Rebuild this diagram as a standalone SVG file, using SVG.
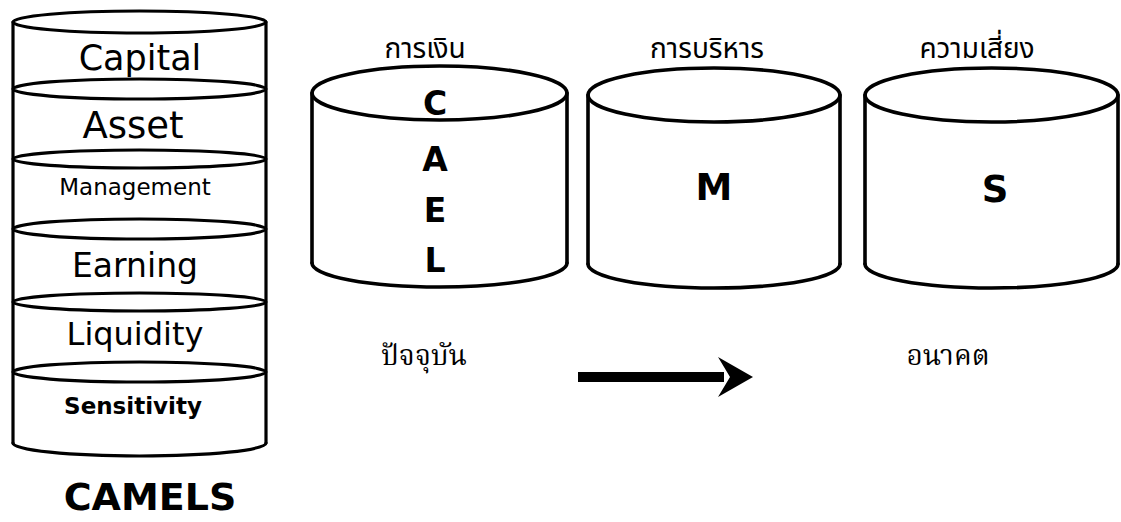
<svg xmlns="http://www.w3.org/2000/svg" width="1121" height="522" viewBox="0 0 1121 522">
<style>
.ln{fill:none;stroke:#000;stroke-width:3.2;stroke-linecap:round}
.cy{fill:none;stroke:#000;stroke-width:3.6;stroke-linecap:round}
.st{font-family:"DejaVu Sans","Noto Sans",sans-serif;fill:#000;text-anchor:middle}
.b{font-family:"DejaVu Sans","Noto Sans",sans-serif;font-weight:bold;fill:#000;text-anchor:middle}
.th{font-family:"Noto Sans Thai","Noto Sans","DejaVu Sans",sans-serif;font-size:28px;fill:#000;text-anchor:middle}
.ths{font-family:"Noto Serif Thai","Liberation Serif",serif;font-size:28px;fill:#000;text-anchor:middle}
</style>
<rect width="1121" height="522" fill="#fff"/>
<g id="camels-stack">
<line class="ln" x1="13" y1="22" x2="13" y2="443"/>
<line class="ln" x1="266" y1="22" x2="266" y2="443"/>
<ellipse class="ln" cx="139.5" cy="22" rx="126.5" ry="11"/>
<ellipse class="ln" cx="139.5" cy="89" rx="126.5" ry="10"/>
<ellipse class="ln" cx="139.5" cy="159" rx="126.5" ry="9"/>
<ellipse class="ln" cx="139.5" cy="229" rx="126.5" ry="10"/>
<ellipse class="ln" cx="139.5" cy="302" rx="126.5" ry="9"/>
<ellipse class="ln" cx="139.5" cy="372" rx="126.5" ry="10"/>
<path class="ln" d="M13,443 A126.5,13 0 0 0 266,443"/>
<text class="st" x="140" y="70" font-size="35">Capital</text>
<text class="st" x="133" y="138" font-size="37">Asset</text>
<text class="st" x="135" y="195" font-size="23">Management</text>
<text class="st" x="135" y="277" font-size="33">Earning</text>
<text class="st" x="135" y="345" font-size="32">Liquidity</text>
<text class="b" x="133" y="414" font-size="23">Sensitivity</text>
<text class="b" x="150" y="510" font-size="38">CAMELS</text>
</g>
<g id="cyl-cael">
<text class="th" x="425" y="58">การเงิน</text>
<line class="cy" x1="312" y1="93" x2="312" y2="263"/>
<line class="cy" x1="567" y1="93" x2="567" y2="263"/>
<ellipse class="cy" cx="439.5" cy="93" rx="127.5" ry="27"/>
<path class="cy" d="M312,263 A127.5,24 0 0 0 567,263"/>
<text class="b" x="435" y="115" font-size="33">C</text>
<text class="b" x="435" y="171" font-size="33">A</text>
<text class="b" x="435" y="222" font-size="33">E</text>
<text class="b" x="435" y="272" font-size="33">L</text>
</g>
<g id="cyl-m">
<text class="th" x="707" y="58">การบริหาร</text>
<line class="cy" x1="588" y1="95" x2="588" y2="264"/>
<line class="cy" x1="840" y1="95" x2="840" y2="264"/>
<ellipse class="cy" cx="714" cy="95" rx="126" ry="27"/>
<path class="cy" d="M588,264 A126,24 0 0 0 840,264"/>
<text class="b" x="714" y="200" font-size="37">M</text>
</g>
<g id="cyl-s">
<text class="th" x="977" y="58">ความเสี่ยง</text>
<line class="cy" x1="865" y1="95" x2="865" y2="264"/>
<line class="cy" x1="1118" y1="95" x2="1118" y2="264"/>
<ellipse class="cy" cx="991.5" cy="95" rx="126.5" ry="27"/>
<path class="cy" d="M865,264 A126.5,24 0 0 0 1118,264"/>
<text class="b" x="995" y="202" font-size="37">S</text>
</g>
<g id="timeline">
<text class="ths" x="424" y="365">ปัจจุบัน</text>
<text class="ths" x="948" y="365">อนาคต</text>
</g>
<g id="connectors">
<rect x="578" y="372" width="146" height="10" fill="#000"/>
<polygon points="753,377 718,357 730,377 718,397" fill="#000"/>
</g>
</svg>
